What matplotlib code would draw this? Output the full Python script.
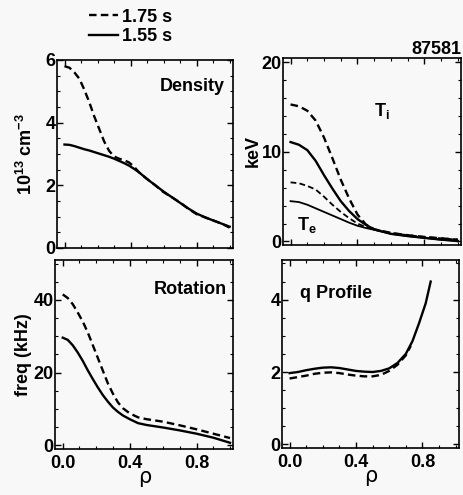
import matplotlib.pyplot as plt
from matplotlib.ticker import MultipleLocator
from matplotlib.lines import Line2D

# ---------------------------
# DATA
# ---------------------------
rho_n = [0.0, 0.03, 0.06, 0.09, 0.12, 0.15, 0.18, 0.21, 0.24, 0.27, 0.3, 0.33,
         0.36, 0.39, 0.42, 0.45, 0.5, 0.55, 0.6, 0.65, 0.7, 0.75, 0.8, 0.85,
         0.9, 0.95, 1.0]
ne_175 = [5.8, 5.75, 5.6, 5.4, 5.05, 4.65, 4.2, 3.8, 3.4, 3.1, 2.92, 2.85,
          2.8, 2.73, 2.6, 2.42, 2.2, 2.0, 1.78, 1.62, 1.45, 1.25, 1.08, 0.98,
          0.88, 0.78, 0.65]
ne_155 = [3.3, 3.29, 3.25, 3.2, 3.15, 3.11, 3.06, 3.01, 2.96, 2.91, 2.85, 2.78,
          2.71, 2.63, 2.53, 2.42, 2.2, 2.0, 1.8, 1.62, 1.44, 1.26, 1.1, 0.98,
          0.88, 0.78, 0.68]

rho_t = [0.0, 0.05, 0.1, 0.15, 0.2, 0.25, 0.3, 0.35, 0.4, 0.45, 0.5, 0.6,
         0.7, 0.8, 0.9, 1.0]
ti_175 = [15.3, 15.1, 14.6, 13.5, 11.6, 9.3, 6.9, 4.8, 3.0, 1.9, 1.35, 0.95,
          0.7, 0.5, 0.35, 0.2]
ti_155 = [11.1, 10.8, 10.2, 9.0, 7.4, 5.9, 4.5, 3.4, 2.5, 1.85, 1.35, 0.85,
          0.6, 0.4, 0.2, 0.05]
te_175 = [6.6, 6.5, 6.2, 5.8, 5.0, 4.1, 3.3, 2.6, 2.0, 1.6, 1.35, 0.95,
          0.7, 0.5, 0.35, 0.2]
te_155 = [4.5, 4.4, 4.1, 3.7, 3.3, 2.9, 2.5, 2.1, 1.75, 1.5, 1.3, 0.85,
          0.6, 0.4, 0.2, 0.05]

rho_rot = [0.0, 0.03, 0.06, 0.09, 0.12, 0.15, 0.18, 0.21, 0.24, 0.27, 0.3,
           0.33, 0.36, 0.4, 0.45, 0.5, 0.6, 0.7, 0.8, 0.9, 1.0]
rot_175 = [41.5, 40.5, 38.8, 36.5, 34.0, 31.0, 27.5, 24.0, 20.5, 17.0, 14.2,
           11.8, 10.2, 8.8, 7.7, 7.2, 6.5, 5.5, 4.4, 3.2, 2.0]
rot_155 = [29.6, 29.0, 27.5, 25.5, 23.2, 20.6, 18.2, 15.9, 13.8, 12.0, 10.4,
           9.2, 8.2, 7.2, 6.1, 5.6, 4.9, 4.1, 3.2, 2.1, 0.7]

rho_q155 = [0.0, 0.05, 0.1, 0.15, 0.2, 0.25, 0.3, 0.35, 0.4, 0.45, 0.5, 0.55,
            0.6, 0.65, 0.7, 0.74, 0.78, 0.82, 0.85]
q_155 = [1.97, 2.0, 2.05, 2.09, 2.12, 2.13, 2.11, 2.07, 2.03, 2.01, 2.0, 2.03,
         2.1, 2.25, 2.5, 2.85, 3.35, 3.9, 4.5]
rho_q175 = [0.0, 0.05, 0.1, 0.15, 0.2, 0.25, 0.3, 0.35, 0.4, 0.45, 0.5, 0.55,
            0.6, 0.65, 0.7, 0.73]
q_175 = [1.82, 1.86, 1.9, 1.95, 1.98, 1.99, 1.97, 1.93, 1.9, 1.88, 1.88, 1.92,
         2.03, 2.2, 2.46, 2.72]

FONT = ["Liberation Sans", "DejaVu Sans"]
plt.rcParams["font.family"] = FONT
plt.rcParams["font.weight"] = "bold"
plt.rcParams["axes.labelweight"] = "bold"
plt.rcParams["mathtext.fontset"] = "custom"
plt.rcParams["mathtext.rm"] = "Liberation Sans:bold"
plt.rcParams["mathtext.it"] = "Liberation Sans:bold"
plt.rcParams["mathtext.bf"] = "Liberation Sans:bold"

BG = "#f8f8f8"
FS = 13
fig = plt.figure(figsize=(4.64, 4.95), dpi=100, facecolor=BG)

ax_n = fig.add_axes([0.123, 0.499, 0.379, 0.380])
ax_t = fig.add_axes([0.610, 0.505, 0.384, 0.378])
ax_r = fig.add_axes([0.119, 0.093, 0.384, 0.382])
ax_q = fig.add_axes([0.608, 0.095, 0.381, 0.380])

DASH = (0, (3.2, 1.8))
LW = 1.7

ax_n.plot(rho_n, ne_175, color="black", ls=DASH, lw=LW)
ax_n.plot(rho_n, ne_155, color="black", lw=LW)
ax_n.set_ylim(0, 6)
ax_n.yaxis.set_major_locator(MultipleLocator(2))
ax_n.yaxis.set_minor_locator(MultipleLocator(0.5))
ax_n.set_ylabel(r"10$^{13}$ cm$^{-3}$", fontsize=FS, labelpad=7)
ax_n.text(0.97, 5.0, "Density", fontsize=FS, ha="right")

ax_t.plot(rho_t, ti_175, color="black", ls=DASH, lw=LW)
ax_t.plot(rho_t, ti_155, color="black", lw=LW)
ax_t.plot(rho_t, te_175, color="black", ls=DASH, lw=1.3)
ax_t.plot(rho_t, te_155, color="black", lw=1.3)
ax_t.set_ylim(-0.4, 20.5)
ax_t.yaxis.set_major_locator(MultipleLocator(10))
ax_t.yaxis.set_minor_locator(MultipleLocator(2))
ax_t.set_ylabel("keV", fontsize=FS, labelpad=0)
ax_t.text(0.5, 14.0, r"T$_\mathrm{i}$", fontsize=FS)
ax_t.text(0.04, 1.3, r"T$_\mathrm{e}$", fontsize=FS)
ax_t.set_title("87581", loc="right", fontsize=FS, fontweight="bold", pad=1)

ax_r.plot(rho_rot, rot_175, color="black", ls=DASH, lw=LW)
ax_r.plot(rho_rot, rot_155, color="black", lw=LW)
ax_r.set_ylim(-1, 51)
ax_r.yaxis.set_major_locator(MultipleLocator(20))
ax_r.yaxis.set_minor_locator(MultipleLocator(5))
ax_r.set_ylabel("freq (kHz)", fontsize=FS, labelpad=1)
ax_r.text(0.98, 41.5, "Rotation", fontsize=FS, ha="right")

ax_q.plot(rho_q175, q_175, color="black", ls=DASH, lw=LW)
ax_q.plot(rho_q155, q_155, color="black", lw=LW)
ax_q.set_ylim(-0.1, 5.1)
ax_q.yaxis.set_major_locator(MultipleLocator(2))
ax_q.yaxis.set_minor_locator(MultipleLocator(0.5))
ax_q.text(0.06, 4.05, "q Profile", fontsize=FS)

for ax in (ax_n, ax_t, ax_r, ax_q):
    ax.set_facecolor(BG)
    ax.set_xlim(-0.045, 1.02)
    ax.xaxis.set_major_locator(MultipleLocator(0.4))
    ax.xaxis.set_minor_locator(MultipleLocator(0.1))
    ax.tick_params(which="both", direction="in", top=True, right=True,
                   labelsize=FS)
    ax.tick_params(axis="y", pad=1)
    ax.tick_params(axis="x", pad=4)
    ax.tick_params(which="major", length=4, width=1)
    ax.tick_params(which="minor", length=2, width=0.8)
    for s in ax.spines.values():
        s.set_linewidth(1.2)
    for lab in ax.get_xticklabels() + ax.get_yticklabels():
        lab.set_fontweight("bold")

ax_n.set_xticklabels([])
ax_t.set_xticklabels([])
for ax in (ax_r, ax_q):
    ax.xaxis.set_major_formatter(plt.FuncFormatter(lambda v, p: f"{v:.1f}"))
    ax.set_xlabel("ρ", fontsize=15, labelpad=-3, fontweight="normal",
                  family=["DejaVu Sans"])

handles = [Line2D([], [], color="black", ls=DASH, lw=LW),
           Line2D([], [], color="black", lw=LW)]
fig.legend(handles, ["1.75 s", "1.55 s"], loc="upper left",
           bbox_to_anchor=(0.165, 1.008), frameon=False,
           handlelength=1.6, handletextpad=0.2, labelspacing=0.15,
           borderpad=0.2, prop={"weight": "bold", "size": FS, "family": FONT})

fig.savefig("out.png", dpi=100, facecolor=BG)
